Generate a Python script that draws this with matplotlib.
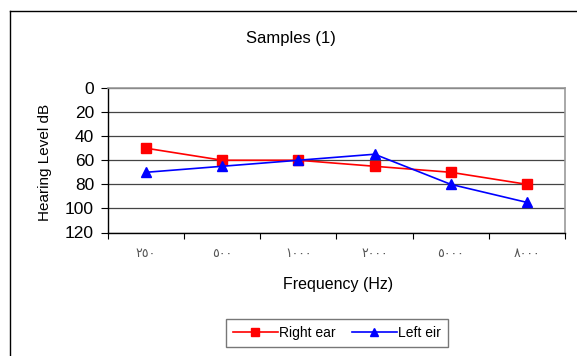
import matplotlib
matplotlib.use("Agg")
import matplotlib.pyplot as plt
from matplotlib.lines import Line2D

categories = ["٢٥٠", "٥٠٠", "١٠٠٠", "٢٠٠٠", "٥٠٠٠", "٨٠٠٠"]
right_ear = [50, 60, 60, 65, 70, 80]
left_ear = [70, 65, 60, 55, 80, 95]
y_ticks = [0, 20, 40, 60, 80, 100, 120]

plt.rcParams['font.family'] = ['Liberation Sans', 'DejaVu Sans']

W, H = 577, 356
fig = plt.figure(figsize=(W / 100, H / 100), dpi=100)
fig.patch.set_facecolor("white")

# outer chart frame (top and left edges)
fig.add_artist(Line2D([10 / W, 1.0], [1 - 11 / H, 1 - 11 / H], color="black", lw=1.0))
fig.add_artist(Line2D([10 / W, 10 / W], [0.0, 1 - 11 / H], color="black", lw=1.0))

L, R, T, B = 108, 565, 88, 232.5
ax = fig.add_axes([L / W, 1 - B / H, (R - L) / W, (B - T) / H])

x = list(range(len(categories)))
ax.plot(x, right_ear, color="#ff0000", lw=1.2, marker="s", ms=6.5,
        markerfacecolor="#ff0000", markeredgecolor="#ff0000", label="Right ear", zorder=3)
ax.plot(x, left_ear, color="#0000ff", lw=1.2, marker="^", ms=7,
        markerfacecolor="#0000ff", markeredgecolor="#0000ff", label="Left eir", zorder=4)

ax.set_xlim(-0.5, len(categories) - 0.5)
ax.set_ylim(120, 0)
ax.set_yticks(y_ticks)
ax.set_yticklabels([str(v) for v in y_ticks], fontsize=12.5)
for v in y_ticks:
    ax.axhline(v, color="#444444", lw=0.9, zorder=1)

# category labels centred, tick marks between categories
ax.set_xticks([i - 0.5 for i in range(len(categories) + 1)])
ax.set_xticklabels([""] * (len(categories) + 1))
ax.set_xticks(x, minor=True)
ax.set_xticklabels(categories, minor=True, fontsize=9, color="#555555")
ax.tick_params(axis="x", which="minor", length=0, pad=11)
ax.tick_params(axis="x", which="major", length=4, width=0.8, direction="out")
ax.tick_params(axis="y", length=5, width=0.8, direction="out", pad=5)

for s in ("left", "bottom"):
    ax.spines[s].set_color("black")
    ax.spines[s].set_linewidth(1.0)
for s in ("top", "right"):
    ax.spines[s].set_color("#999999")
    ax.spines[s].set_linewidth(1.2)

fig.text(291 / W, 1 - 38 / H, "Samples (1)", ha="center", va="center", fontsize=12)
fig.text(45 / W, 1 - 162 / H, "Hearing Level dB", ha="center", va="center",
         rotation=90, fontsize=11)
fig.text(338 / W, 1 - 285 / H, "Frequency (Hz)", ha="center", va="center", fontsize=11.5)

leg = fig.legend(loc="center", bbox_to_anchor=(337 / W, 1 - 333 / H), ncol=2,
                 frameon=True, fancybox=False, fontsize=10, handlelength=3.2,
                 columnspacing=1.2, handletextpad=0.1, borderpad=0.5,
                 markerscale=0.85)
leg.get_frame().set_edgecolor("#555555")
leg.get_frame().set_linewidth(1.0)

fig.savefig("out.png", dpi=100, facecolor="white")
